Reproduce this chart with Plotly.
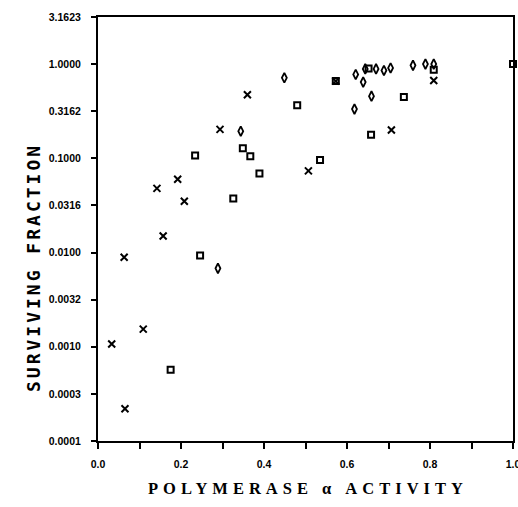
import plotly.graph_objects as go

# Series: x markers
x_cross = [0.033, 0.063, 0.065, 0.109, 0.142, 0.157, 0.192, 0.208, 0.294, 0.360, 0.507, 0.573, 0.707, 0.809]
y_cross = [0.00107, 0.0089, 0.00022, 0.00154, 0.048, 0.015, 0.060, 0.035, 0.203, 0.472, 0.0736, 0.66, 0.20, 0.67]

# Series: diamonds
x_diam = [0.289, 0.344, 0.449, 0.618, 0.621, 0.639, 0.644, 0.659, 0.670, 0.689, 0.705, 0.759, 0.789, 0.809]
y_diam = [0.0068, 0.194, 0.716, 0.333, 0.777, 0.644, 0.89, 0.457, 0.89, 0.857, 0.91, 0.97, 1.0, 1.0]

# Series: squares
x_sq = [0.175, 0.234, 0.246, 0.326, 0.349, 0.367, 0.389, 0.480, 0.535, 0.573, 0.652, 0.658, 0.737, 0.809, 1.0]
y_sq = [0.00057, 0.107, 0.0093, 0.0375, 0.128, 0.105, 0.069, 0.367, 0.096, 0.66, 0.90, 0.178, 0.447, 0.87, 1.0]

y_tickvals = [0.0001, 0.00031623, 0.001, 0.0031623, 0.01, 0.031623, 0.1, 0.31623, 1.0, 3.1623]
y_ticktext = ["0.0001", "0.0003", "0.0010", "0.0032", "0.0100", "0.0316", "0.1000", "0.3162", "1.0000", "3.1623"]
x_tickvals = [0.0, 0.2, 0.4, 0.6, 0.8, 1.0]
x_ticktext = ["0.0", "0.2", "0.4", "0.6", "0.8", "1.0"]

fig = go.Figure()
fig.add_trace(go.Scatter(x=x_cross, y=y_cross, mode="markers", cliponaxis=False,
                         marker=dict(symbol="x-thin-open", size=7, color="black",
                                     line=dict(color="black", width=2))))
fig.add_trace(go.Scatter(x=x_diam, y=y_diam, mode="markers", cliponaxis=False,
                         marker=dict(symbol="diamond-tall-open", size=7, color="black",
                                     line=dict(color="black", width=1.8))))
fig.add_trace(go.Scatter(x=x_sq, y=y_sq, mode="markers", cliponaxis=False,
                         marker=dict(symbol="square-open", size=6, color="black",
                                     line=dict(color="black", width=2))))

tickfont = dict(family="Liberation Sans", size=10.5, color="black", weight="bold")
pw, ph = 518 - 98 - 5, 507 - 17 - 66
fig.update_layout(
    width=518, height=507,
    margin=dict(l=98, r=5, t=17, b=66),
    paper_bgcolor="white", plot_bgcolor="white",
    showlegend=False,
    xaxis=dict(range=[0, 1.0], tickvals=x_tickvals, ticktext=x_ticktext,
               ticks="outside", ticklen=6, tickwidth=1.5, tickcolor="black",
               minor=dict(tickvals=[0.1, 0.3, 0.5, 0.7, 0.9], ticks="outside", ticklen=6,
                          tickwidth=1.5, tickcolor="black"),
               showline=True, linecolor="black", linewidth=2, mirror=True,
               showgrid=False, zeroline=False, tickfont=tickfont, ticklabelstandoff=6,
               ticklabeloverflow="allow", automargin=False),
    yaxis=dict(type="log", range=[-4, 0.5], tickvals=y_tickvals, ticktext=y_ticktext,
               ticks="outside", ticklen=5, tickwidth=1.5, tickcolor="black",
               showline=True, linecolor="black", linewidth=2, mirror=True,
               showgrid=False, zeroline=False, tickfont=tickfont, ticklabelstandoff=8,
               automargin=False),
    annotations=[
        dict(text="<b><span style=\"letter-spacing:5px\">POLYMERASE \u03b1 ACTIVITY</span></b>",
             x=(308 - 98) / pw, y=(441 - 488) / ph, xref="paper", yref="paper",
             xanchor="center", yanchor="middle", showarrow=False,
             font=dict(family="Liberation Serif", size=16.5, color="black")),
        dict(text="<b><span style=\"letter-spacing:3px\">SURVIVING FRACTION</span></b>",
             x=(33 - 98) / pw, y=(441 - 268) / ph, xref="paper", yref="paper",
             xanchor="center", yanchor="middle", showarrow=False, textangle=-90,
             font=dict(family="DejaVu Sans Mono", size=18, color="black")),
    ],
)

fig.write_html("out.html")
